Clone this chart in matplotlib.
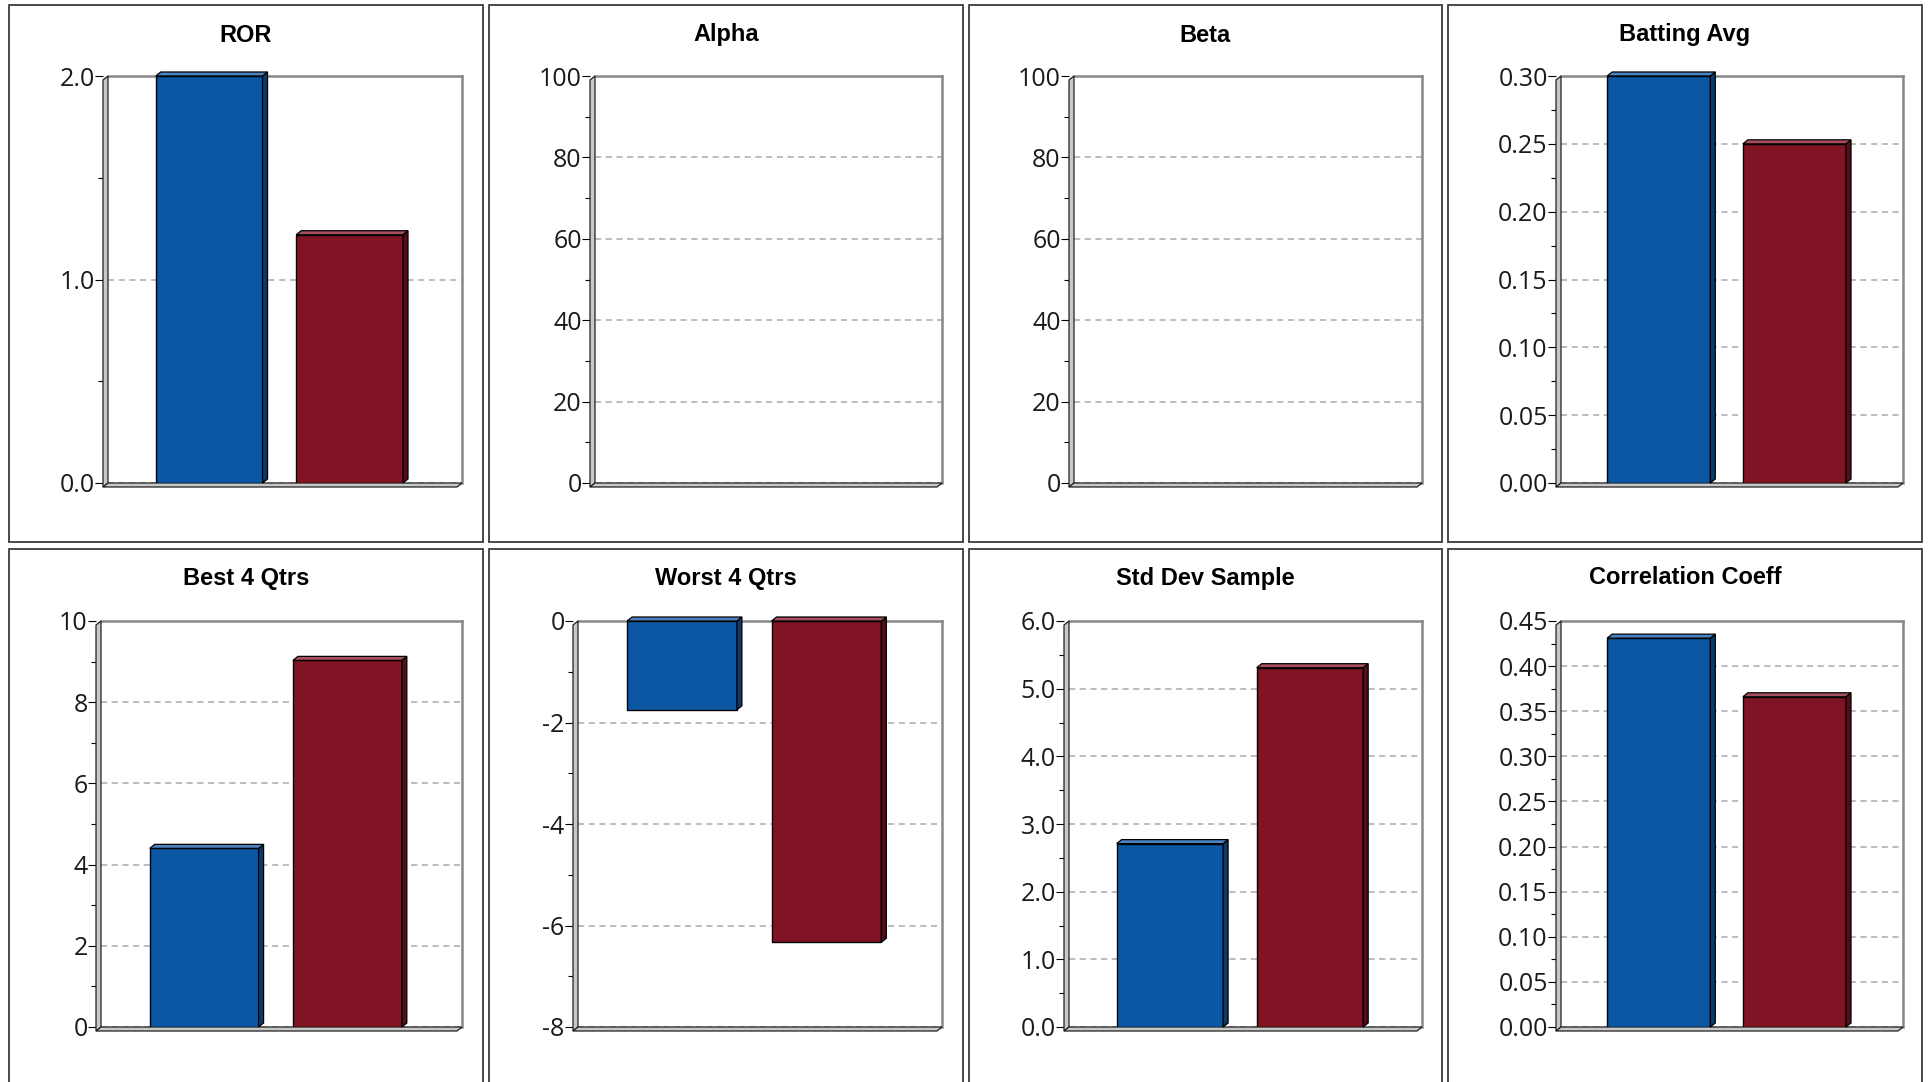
import numpy as np
import matplotlib.pyplot as plt
from matplotlib.patches import Polygon, Rectangle
from matplotlib.transforms import IdentityTransform
from matplotlib.ticker import MultipleLocator, FormatStrFormatter

plt.rcParams['font.family'] = ['Open Sans', 'DejaVu Sans']
plt.rcParams['axes.unicode_minus'] = False

# statistics: first value = fund, second = benchmark
titles = ['ROR', 'Alpha', 'Beta', 'Batting Avg',
          'Best 4 Qtrs', 'Worst 4 Qtrs', 'Std Dev Sample', 'Correlation Coeff']
ror = [2.0, 1.22]
alpha = [0.0, 0.0]
beta = [0.0, 0.0]
batting_avg = [0.30, 0.25]
best_4q = [4.4, 9.03]
worst_4q = [-1.75, -6.33]
std_dev = [2.71, 5.31]
corr_coeff = [0.431, 0.366]
values = [ror, alpha, beta, batting_avg, best_4q, worst_4q, std_dev, corr_coeff]

y_limits = [(0, 2), (0, 100), (0, 100), (0, 0.30),
            (0, 10), (-8, 0), (0, 6), (0, 0.45)]
major_steps = [1.0, 20, 20, 0.05, 2, 2, 1.0, 0.05]
minor_steps = [0.5, 10, 10, 0.025, 1, 1, 0.5, 0.025]
tick_fmts = ['%.1f', '%d', '%d', '%.2f', '%d', '%d', '%.1f', '%.2f']

colors = ['#0b57a4', '#801424']
side_colors = ['#083a6e', '#560d18']
top_colors = ['#4d82c2', '#a8505e']

W, H = 1931, 1082
fig = plt.figure(figsize=(W / 100, H / 100), dpi=100)

# panel frames (pixels: left, right, top, bottom)
col_x = [(8.6, 483), (489, 963), (969, 1442), (1448, 1922)]
row_y = [(5, 542), (549, 1095)]
# plot areas (pixels)
plot_x = [(108, 462), (595, 942), (1074, 1422), (1561, 1903),
          (101, 462), (578, 942), (1069, 1422), (1561, 1903)]
plot_y = [(76, 483), (621, 1027)]
title_y = [35, 578]

for r in range(2):
    for c in range(4):
        x0, x1 = col_x[c]
        y0, y1 = row_y[r]
        fig.add_artist(Rectangle((x0 / W, 1 - y1 / H), (x1 - x0) / W, (y1 - y0) / H,
                                 transform=fig.transFigure, fill=False,
                                 edgecolor='#3a3a3a', lw=1.3))

d_x, d_y = 5, 4  # depth of the pseudo-3D faces, in pixels

for i, vals in enumerate(values):
    r, c = divmod(i, 4)
    l, rt = plot_x[i]
    t, b = plot_y[r]
    ax = fig.add_axes([l / W, 1 - b / H, (rt - l) / W, (b - t) / H])
    ax.set_xlim(-0.72, 1.80)
    ax.set_ylim(*y_limits[i])
    ax.yaxis.set_major_locator(MultipleLocator(major_steps[i]))
    ax.yaxis.set_minor_locator(MultipleLocator(minor_steps[i]))
    ax.yaxis.set_major_formatter(FormatStrFormatter(tick_fmts[i]))
    ax.set_xticks([])
    ax.yaxis.grid(True, which='major', linestyle=(0, (4, 3)), color='#aaaaaa', lw=1.1)
    ax.set_axisbelow(True)
    for s in ['top', 'right']:
        ax.spines[s].set_color('#888888')
        ax.spines[s].set_linewidth(1.8)
    ax.spines['bottom'].set_visible(False)
    ax.spines['left'].set_visible(False)
    ax.spines['left'].set_position(('outward', 3.6))
    ax.tick_params(axis='y', which='major', length=5.5, width=0.8, pad=0.5,
                   labelsize=18, colors='black', labelcolor='#1a1a1a')
    ax.tick_params(axis='y', which='minor', length=3.6, width=0.8)

    fig.text(((col_x[c][0] + col_x[c][1]) / 2) / W, 1 - title_y[r] / H, titles[i],
             ha='center', va='center', fontsize=17, fontweight='bold',
             family=['Liberation Sans', 'DejaVu Sans'])

    # left wall and floor
    (px0, pyb), (px1, pyt) = ax.transAxes.transform([(0, 0), (1, 1)])
    ident = IdentityTransform()
    wall = Polygon([(px0 - d_x, pyt - d_y), (px0, pyt), (px0, pyb), (px0 - d_x, pyb - d_y)],
                   closed=True, facecolor='#c8c8c8', edgecolor='#202020', lw=0.9,
                   transform=ident, clip_on=False, zorder=4)
    floor = Polygon([(px0, pyb), (px1, pyb), (px1 - d_x, pyb - d_y), (px0 - d_x, pyb - d_y)],
                    closed=True, facecolor='#c8c8c8', edgecolor='#202020', lw=0.9,
                    transform=ident, clip_on=False, zorder=4)
    ax.add_patch(wall)
    ax.add_patch(floor)

    bars = ax.bar([0, 1], vals, width=0.76, color=colors, edgecolor='black',
                  lw=1.0, zorder=5)
    for k, bar in enumerate(bars):
        if vals[k] == 0:
            bar.set_visible(False)
            continue
        bx, by = bar.get_x(), bar.get_y()
        bw, bh = bar.get_width(), bar.get_height()
        (qx0, qy0), (qx1, qy1) = ax.transData.transform([(bx, by), (bx + bw, by + bh)])
        ytop, ybot = max(qy0, qy1), min(qy0, qy1)
        side = Polygon([(qx1, ybot), (qx1, ytop), (qx1 + d_x, ytop + d_y), (qx1 + d_x, ybot + d_y)],
                       closed=True, facecolor=side_colors[k], edgecolor='black', lw=0.9,
                       transform=ident, clip_on=False, zorder=5)
        top = Polygon([(qx0, ytop), (qx1, ytop), (qx1 + d_x, ytop + d_y), (qx0 + d_x, ytop + d_y)],
                      closed=True, facecolor=top_colors[k], edgecolor='black', lw=0.9,
                      transform=ident, clip_on=False, zorder=5)
        ax.add_patch(side)
        ax.add_patch(top)

fig.savefig('out.png', dpi=100, facecolor='white')
